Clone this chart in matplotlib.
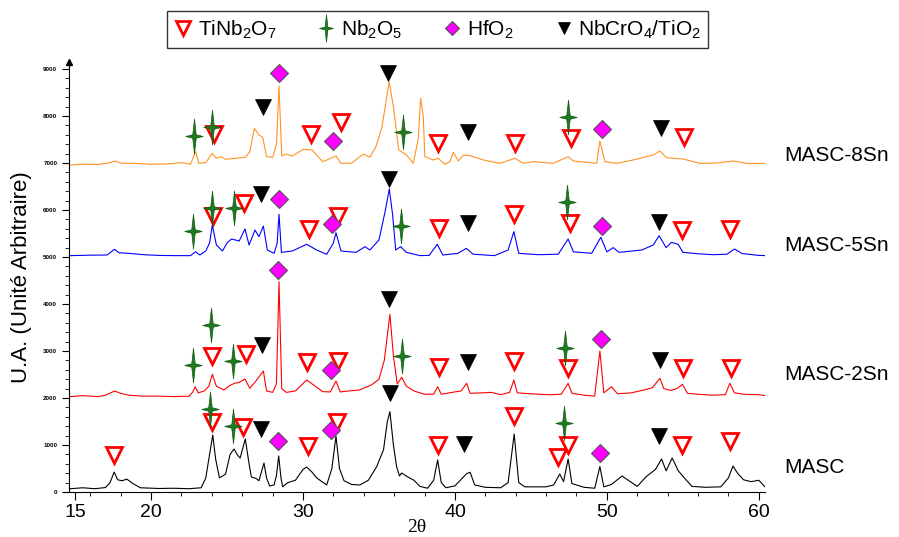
import numpy as np
import matplotlib
matplotlib.use("Agg")
import matplotlib.pyplot as plt
from matplotlib.path import Path
from matplotlib.lines import Line2D
from matplotlib.ticker import MultipleLocator, FixedLocator

plt.rcParams['font.family'] = ['Liberation Sans', 'DejaVu Sans']
plt.rcParams['mathtext.fontset'] = 'custom'
plt.rcParams['mathtext.rm'] = 'Liberation Sans'
plt.rcParams['mathtext.it'] = 'Liberation Sans:italic'
plt.rcParams['mathtext.bf'] = 'Liberation Sans:bold'

# ---- diffraction patterns (2theta, offset intensity) ----
masc_x = [14.7, 15.5, 16.3, 17.0, 17.3, 17.57, 17.8, 18.1, 18.4, 18.8, 19.3, 20.5, 21.5, 22.5,
          23.3, 23.6, 23.85, 24.06, 24.25, 24.5, 24.9, 25.2, 25.46, 25.7, 25.86, 26.2, 26.45,
          26.6, 26.9, 27.1, 27.43, 27.6, 27.8, 28.1, 28.25, 28.4, 28.55, 28.66, 29.0, 29.5,
          30.0, 30.24, 30.6, 30.9, 31.2, 31.56, 31.9, 32.17, 32.4, 32.7, 33.2, 33.75, 34.3,
          34.85, 35.3, 35.55, 35.72, 35.95, 36.16, 36.35, 36.49, 36.9, 37.3, 37.7, 38.2, 38.6,
          38.86, 39.1, 39.4, 40.0, 40.5, 40.77, 41.0, 41.3, 42.0, 43.0, 43.5, 43.9, 44.2, 44.6,
          46.0, 46.5, 46.9, 47.15, 47.45, 47.7, 48.5, 49.2, 49.54, 49.8, 50.3, 51.0, 51.5,
          52.0, 52.6, 53.2, 53.6, 53.9, 54.3, 54.7, 55.1, 55.6, 56.5, 57.5, 58.0, 58.3, 58.6,
          59.0, 59.5, 60.0, 60.5]
masc_y = [70, 90, 70, 95, 200, 425, 260, 240, 275, 180, 90, 75, 80, 70,
          90, 300, 800, 1213, 700, 300, 380, 800, 915, 780, 723, 1128, 600,
          319, 290, 240, 617, 300, 128, 150, 350, 766, 300, 110, 200, 250,
          480, 532, 420, 300, 230, 150, 500, 1192, 500, 240, 160, 150, 250,
          540, 900, 1500, 1709, 1000, 540, 340, 404, 320, 250, 120, 80, 250,
          681, 200, 90, 130, 300, 390, 420, 150, 100, 90, 200, 1234, 200, 110,
          110, 150, 383, 220, 702, 180, 100, 80, 539, 110, 160, 340, 230,
          120, 330, 480, 702, 450, 724, 450, 300, 120, 100, 110, 300, 553, 400,
          260, 220, 250, 80]

sn2_x = [14.7, 15.5, 16.5, 17.0, 17.6, 18.0, 18.5, 19.5, 20.5, 21.5, 22.5, 22.75, 22.9, 23.1,
         23.5, 23.8, 24.03, 24.3, 24.8, 25.2, 25.5, 25.8, 26.18, 26.5, 26.9, 27.39, 27.6, 28.0,
         28.25, 28.42, 28.6, 28.9, 29.5, 30.24, 30.7, 31.3, 31.8, 32.17, 32.45, 33.0, 33.7,
         34.5, 35.0, 35.35, 35.72, 35.95, 36.2, 36.5, 36.8, 37.3, 38.0, 38.6, 38.86, 39.1,
         39.8, 40.4, 40.77, 41.0, 41.8, 42.4, 43.0, 43.6, 43.88, 44.1, 45.0, 46.2, 47.0, 47.45,
         47.7, 48.5, 49.2, 49.54, 49.8, 50.3, 50.7, 51.6, 52.3, 53.0, 53.49, 53.75, 54.2, 54.6,
         54.98, 55.3, 56.0, 57.0, 57.8, 58.09, 58.4, 59.0, 60.0, 60.5]
sn2_y = [2030, 2050, 2030, 2060, 2149, 2100, 2060, 2040, 2040, 2030, 2040, 2130, 2241, 2110,
         2150, 2250, 2504, 2250, 2170, 2270, 2313, 2334, 2405, 2206, 2362, 2575, 2150, 2120,
         2300, 4475, 2200, 2120, 2150, 2383, 2277, 2135, 2130, 2362, 2130, 2150, 2170,
         2277, 2400, 2800, 3781, 2900, 2300, 2440, 2250, 2150, 2080, 2080, 2241, 2080,
         2120, 2150, 2313, 2100, 2110, 2120, 2070, 2120, 2383, 2110, 2090, 2070, 2080, 2313,
         2100, 2060, 2040, 3000, 2110, 2241, 2090, 2110, 2160, 2220, 2419, 2200, 2160, 2200,
         2291, 2100, 2080, 2060, 2070, 2313, 2110, 2080, 2070, 2050]

sn5_x = [14.7, 16.0, 17.1, 17.59, 17.9, 18.5, 19.5, 20.5, 21.5, 22.6, 22.93, 23.2, 23.6, 23.85,
         24.03, 24.3, 24.7, 25.0, 25.3, 25.8, 26.18, 26.45, 26.84, 27.1, 27.39, 27.65, 28.1,
         28.3, 28.42, 28.58, 29.3, 30.24, 30.9, 31.56, 32.0, 32.17, 32.5, 33.5, 34.08, 34.4,
         35.0, 35.4, 35.68, 35.9, 36.1, 36.43, 36.8, 37.7, 38.3, 38.84, 39.2, 40.2, 40.75,
         41.2, 42.6, 43.5, 43.88, 44.2, 45.5, 46.8, 47.45, 47.8, 49.0, 49.6, 50.0, 50.42,
         50.8, 52.3, 53.05, 53.44, 53.9, 54.25, 54.7, 55.0, 56.0, 57.0, 57.9, 58.4, 58.9,
         60.0, 60.5]
sn5_y = [5030, 5040, 5043, 5164, 5090, 5079, 5050, 5035, 5030, 5030, 5114, 5043, 5130, 5300,
         5681, 5256, 5129, 5300, 5384, 5341, 5597, 5256, 5575, 5433, 5660, 5150, 5079,
         5300, 5909, 5100, 5129, 5271, 5150, 5058, 5300, 5518, 5129, 5100, 5221, 5150,
         5363, 5965, 6448, 5895, 5150, 5221, 5100, 5030, 5035, 5271, 5043, 5079, 5186,
         5060, 5030, 5150, 5540, 5079, 5050, 5060, 5384, 5110, 5080, 5420, 5110, 5200,
         5100, 5150, 5256, 5454, 5200, 5312, 5270, 5100, 5070, 5050, 5060, 5171, 5075,
         5035, 5030]

sn8_x = [14.7, 15.5, 16.5, 17.2, 17.63, 18.0, 19.0, 20.0, 21.0, 22.0, 22.6, 22.93, 23.15, 23.6,
         24.03, 24.3, 24.6, 24.9, 25.5, 26.2, 26.5, 26.8, 27.1, 27.35, 27.6, 28.0, 28.25,
         28.42, 28.6, 28.9, 29.3, 30.02, 30.6, 31.3, 32.17, 32.5, 33.2, 33.97, 34.4, 34.8,
         35.2, 35.67, 35.95, 36.3, 36.82, 37.26, 37.59, 37.74, 37.91, 38.02, 38.57, 38.9,
         39.34, 39.67, 39.89, 40.22, 40.55, 40.99, 41.87, 42.96, 43.95, 44.5, 45.16, 46.47,
         47.46, 47.79, 49.33, 49.54, 49.87, 50.64, 51.73, 53.05, 53.49, 53.93, 55.02, 56.12,
         57.2, 58.31, 59.3, 60.4]
sn8_y = [6960, 6975, 6970, 7000, 7044, 7000, 6990, 6975, 6980, 7008, 6975, 7242, 6994, 7008,
         7208, 7101, 7136, 7079, 7100, 7122, 7242, 7739, 7597, 7548, 7136, 7122, 7400,
         8640, 7150, 7193, 7150, 7293, 7278, 7029, 7150, 6994, 7000, 7193, 7122, 7348,
         7774, 8731, 8200, 7278, 7171, 6994, 7527, 8378, 8023, 7136, 7065, 7101,
         6973, 7029, 7229, 7044, 7171, 7157, 7065, 6994, 7101, 6994, 7029, 6994,
         7136, 7044, 6994, 7470, 7029, 6994, 7065, 7171, 7257, 7114, 7086, 6994,
         7000, 7044, 6990, 6994]

# ---- phase markers ----
tinb_x = [17.57, 23.99, 26.07, 30.36, 32.21, 38.86, 43.9, 46.8, 47.45, 54.96, 58.09,
          23.99, 26.25, 30.28, 32.28, 38.95, 43.88, 47.45, 55.02, 58.16,
          24.06, 26.14, 30.42, 32.32, 38.95, 43.9, 47.57, 54.97, 58.09,
          24.14, 30.5, 32.48, 38.86, 43.95, 47.67, 55.09]
tinb_y = [787, 1497, 1390, 985, 1497, 1000, 1617, 751, 1000, 1000, 1092,
          2894, 2930, 2773, 2788, 2666, 2788, 2645, 2632, 2645,
          5880, 6144, 5597, 5880, 5624, 5909, 5718, 5575, 5597,
          7619, 7619, 7880, 7420, 7420, 7527, 7561]

nb2o5_x = [23.88, 25.42, 47.19,
           22.78, 23.92, 25.42, 36.53, 47.24,
           22.74, 23.99, 25.46, 36.43, 47.35,
           22.83, 24.03, 36.6, 47.45]
nb2o5_y = [1766, 1404, 1462,
           2703, 3553, 2788, 2901, 3071,
           5554, 6037, 6050, 5668, 6165,
           7576, 7774, 7668, 7986]

hfo2_x = [28.38, 31.82, 49.54, 28.38, 31.82, 49.6, 28.44, 31.88, 49.71, 28.42, 31.99, 49.65]
hfo2_y = [1092, 1319, 837, 4724, 2596, 3255, 6228, 5697, 5668, 8910, 7476, 7725]

nbcr_x = [27.24, 35.72, 40.61, 53.42, 27.32, 35.68, 40.83, 53.53,
          27.24, 35.68, 40.83, 53.44, 27.35, 35.62, 40.88, 53.55]
nbcr_y = [1334, 2113, 1021, 1192, 3128, 4107, 2760, 2809,
          6335, 6661, 5718, 5739, 8200, 8923, 7655, 7752]

sample_names = ['MASC-8Sn', 'MASC-5Sn', 'MASC-2Sn', 'MASC']
name_y = [7171, 5256, 2490, 511]
y_ticks = [0, 1000, 2000, 3000, 4000, 5000, 6000, 7000, 8000, 9000]

# 4-point star marker
star = Path([(0, 1), (0.1, 0.1), (0.5, 0), (0.1, -0.1), (0, -1),
             (-0.1, -0.1), (-0.5, 0), (-0.1, 0.1), (0, 1)], closed=True)

fig = plt.figure(figsize=(8.99, 5.37), dpi=100)
ax = fig.add_axes([0.0768, 0.0838, 0.774, 0.8007])

for xs, ys, col in [(masc_x, masc_y, 'black'), (sn2_x, sn2_y, '#ff0000'),
                    (sn5_x, sn5_y, '#0000ff'), (sn8_x, sn8_y, '#ff9326')]:
    ax.plot(xs, ys, color=col, lw=0.8)

tri_kw = dict(ls='none', marker='v', ms=12, mfc='white', mec='#ff0000', mew=2.0)
star_kw = dict(ls='none', marker=star, ms=25, mfc='#1f7a1f', mec='#0f5a0f', mew=0.5)
dia_kw = dict(ls='none', marker='D', ms=9, mfc='#ff00ff', mec='#555555', mew=0.8)
blk_kw = dict(ls='none', marker='v', ms=11.5, mfc='black', mec='black', mew=0.5)

ax.plot(tinb_x, tinb_y, clip_on=False, zorder=5, **tri_kw)
ax.plot(nb2o5_x, nb2o5_y, clip_on=False, zorder=5, **star_kw)
ax.plot(hfo2_x, hfo2_y, clip_on=False, zorder=5, **dia_kw)
ax.plot(nbcr_x, nbcr_y, clip_on=False, zorder=5, **blk_kw)

for name, yy in zip(sample_names, name_y):
    ax.text(61.7, yy, name, fontsize=15, va='center', ha='left', clip_on=False)

ax.set_xlim(14.6, 60.4)
ax.set_ylim(0, 9150)
ax.spines['top'].set_visible(False)
ax.spines['right'].set_visible(False)

ax.xaxis.set_major_locator(FixedLocator([15, 20, 30, 40, 50, 60]))
ax.xaxis.set_minor_locator(FixedLocator([16, 18, 22, 24, 26, 28, 32, 34, 36, 38, 42, 44, 46,
                                         48, 52, 54, 56, 58]))
ax.set_yticks(y_ticks)
ax.yaxis.set_minor_locator(MultipleLocator(200))
ax.tick_params(axis='x', which='major', length=6, labelsize=14, direction='out', pad=3)
ax.tick_params(axis='x', which='minor', length=3)
ax.tick_params(axis='y', which='major', length=5, labelsize=4.5, direction='out')
ax.tick_params(axis='y', which='minor', length=3)
for lab in ax.get_yticklabels():
    lab.set_fontweight('bold')

ax.plot([14.6], [9150], marker='^', ms=4, color='black', clip_on=False)

ax.set_xlabel('2θ', fontsize=14, family=['Liberation Serif', 'DejaVu Serif'], labelpad=-2)
ax.set_ylabel('U.A. (Unité Arbitraire)', fontsize=16, labelpad=8)

handles = [Line2D([], [], **tri_kw), Line2D([], [], **star_kw),
           Line2D([], [], **dia_kw), Line2D([], [], **blk_kw)]
labels = ['TiNb$_2$O$_7$', 'Nb$_2$O$_5$', 'HfO$_2$', 'NbCrO$_4$/TiO$_2$']
leg = fig.legend(handles, labels, loc='center', bbox_to_anchor=(0.487, 0.945), ncol=4,
                 fontsize=15, frameon=True, fancybox=False, edgecolor='black',
                 handlelength=0.8, handletextpad=0.3, columnspacing=2.0,
                 borderpad=0.35, markerscale=0.8)
leg.get_frame().set_linewidth(1.0)

fig.savefig('out.png', dpi=100)
